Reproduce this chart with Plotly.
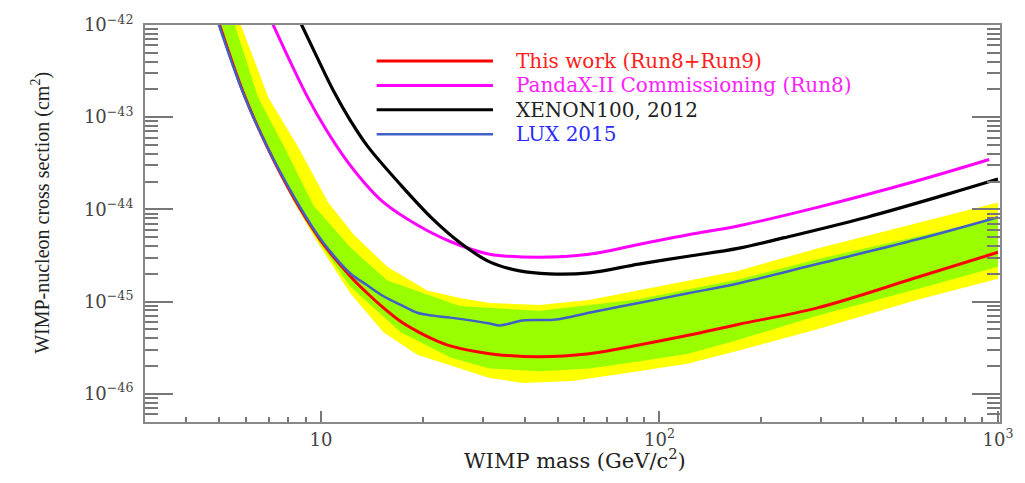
import plotly.graph_objects as go

# ---------------- data ----------------
# This work (Run8+Run9)
red_mass = [4.9, 5.95, 7.0, 8.33, 9.8, 10.9, 12.24, 13.7, 15.3, 17.2, 19.25, 21.4, 24.1, 31.5, 44.2, 61.9, 86.8,
            121.6, 170.5, 292.6, 574.7, 1000]
red_xsec = [1.3e-42, 1.69e-43, 4.42e-44, 1.31e-44, 5.05e-45, 3.03e-45, 1.86e-45, 1.23e-45, 8.53e-46, 6.07e-46,
            4.75e-46, 3.91e-46, 3.30e-46, 2.72e-46, 2.52e-46, 2.72e-46, 3.38e-46, 4.31e-46, 5.64e-46, 8.53e-46,
            1.82e-45, 3.42e-45]

# LUX 2015
lux_mass = [4.85, 5.9, 6.95, 8.3, 9.75, 10.9, 12.24, 13.7, 15.3, 17.2, 19.25, 21.4, 24.1, 31.5, 33.7, 39.4, 49.5,
            61.9, 86.8, 121.6, 170.5, 292.6, 574.7, 1000]
lux_xsec = [1.38e-42, 1.79e-43, 4.68e-44, 1.39e-44, 5.35e-45, 3.15e-45, 2.0e-45, 1.50e-45, 1.14e-45, 9.18e-46,
            7.55e-46, 7.03e-46, 6.69e-46, 5.78e-46, 5.5e-46, 6.22e-46, 6.37e-46, 7.55e-46, 9.64e-46, 1.23e-45,
            1.57e-45, 2.55e-45, 4.70e-45, 8.22e-45]

# PandaX-II Commissioning (Run8)
pandax_mass = [6.9, 8.17, 9.16, 10.34, 11.68, 13.37, 15.3, 19.25, 24.1, 31.5, 44.2, 61.9, 86.8, 121.6, 170.5,
               292.6, 574.7, 942]
pandax_xsec = [1.45e-42, 3.78e-43, 1.61e-43, 7.38e-44, 3.73e-44, 1.98e-44, 1.19e-44, 6.77e-45, 4.48e-45, 3.26e-45,
               3.03e-45, 3.26e-45, 4.16e-45, 5.31e-45, 6.6e-45, 1.05e-44, 2.03e-44, 3.47e-44]

# XENON100, 2012
xenon_mass = [8.5, 9.73, 10.9, 12.24, 13.7, 17.2, 21.4, 25.7, 31.5, 38.6, 47.2, 61.9, 86.8, 121.6, 170.5, 234,
              410, 718, 1000]
xenon_xsec = [1.27e-42, 4.48e-43, 1.91e-43, 9.08e-44, 4.88e-44, 1.84e-44, 7.83e-45, 4.37e-45, 2.69e-45, 2.15e-45,
              2.0e-45, 2.05e-45, 2.55e-45, 3.10e-45, 3.77e-45, 4.93e-45, 8.22e-45, 1.48e-44, 2.13e-44]

# 2-sigma band (yellow)
y2_hi_mass = [5.6, 7.0, 8.56, 10.5, 12.5, 15.7, 20.6, 25.7, 31.5, 44.2, 61.9, 86.8, 121.6, 170.5, 292.6, 574.7, 1000]
y2_hi_xsec = [1.4e-42, 1.61e-43, 4.75e-44, 1.19e-44, 5.31e-45, 2.38e-45, 1.32e-45, 1.09e-45, 9.64e-46, 9.18e-46,
              1.04e-45, 1.32e-45, 1.69e-45, 2.15e-45, 3.77e-45, 7.11e-45, 1.19e-44]
y2_lo_mass = [4.9, 5.95, 7.0, 8.33, 9.8, 12.2, 15.3, 19.25, 24.1, 31.5, 39.4, 55.2, 86.8, 121.6, 170.5, 292.6, 574.7, 1000]
y2_lo_xsec = [1.25e-42, 1.6e-43, 4.2e-44, 1.18e-44, 4.3e-45, 1.23e-45, 4.64e-46, 2.65e-46, 2.03e-46, 1.48e-46,
              1.31e-46, 1.37e-46, 1.75e-46, 2.13e-46, 2.92e-46, 4.99e-46, 1.04e-45, 1.77e-45]

# 1-sigma band (green)
g1_hi_mass = [5.4, 6.53, 7.79, 9.5, 12.2, 15.7, 25.7, 44.2, 86.8, 170.5, 292.6, 574.7, 1000]
g1_hi_xsec = [1.4e-42, 1.61e-43, 4.75e-44, 1.10e-44, 3.87e-45, 1.69e-45, 8.95e-46, 7.93e-46, 1.06e-45, 1.73e-45,
              2.88e-45, 5.06e-45, 8.03e-45]
g1_lo_mass = [4.9, 5.95, 7.0, 8.33, 9.8, 12.2, 17.2, 24.1, 31.5, 44.2, 61.9, 86.8, 121.6, 170.5, 292.6, 574.7, 1000]
g1_lo_xsec = [1.28e-42, 1.62e-43, 4.3e-44, 1.22e-44, 4.6e-45, 1.46e-45, 4.64e-46, 2.47e-46, 1.88e-46, 1.75e-46,
              1.88e-46, 2.23e-46, 2.72e-46, 3.82e-46, 7.03e-46, 1.36e-45, 2.38e-45]

legend_names = ["This work (Run8+Run9)", "PandaX-II Commissioning (Run8)", "XENON100, 2012", "LUX 2015"]

x_tickvals = [10, 100, 1000]
x_ticktext = ["10", "10<sup>2</sup>", "10<sup>3</sup>"]
y_exponents = [-42, -43, -44, -45, -46]

# ---------------- styling ----------------
RED = "#ff0000"
MAGENTA = "#ff00ff"
BLACK = "#000000"
BLUE = "#4060c8"
YELLOW = "#ffff00"
GREEN = "#99ff00"
SERIF = "DejaVu Serif"
TIMES = "Liberation Serif"

fig = go.Figure()

def band(hi_m, hi_s, lo_m, lo_s, color, name):
    fig.add_trace(go.Scatter(
        x=list(hi_m) + list(reversed(lo_m)),
        y=list(hi_s) + list(reversed(lo_s)),
        fill="toself", fillcolor=color, mode="lines",
        line=dict(width=0, color=color), name=name,
        showlegend=False, hoverinfo="skip"))

band(y2_hi_mass, y2_hi_xsec, y2_lo_mass, y2_lo_xsec, YELLOW, "2 sigma")
band(g1_hi_mass, g1_hi_xsec, g1_lo_mass, g1_lo_xsec, GREEN, "1 sigma")

series = [
    (pandax_mass, pandax_xsec, MAGENTA, 3, legend_names[1]),
    (xenon_mass, xenon_xsec, BLACK, 3.2, legend_names[2]),
    (red_mass, red_xsec, RED, 3, legend_names[0]),
    (lux_mass, lux_xsec, BLUE, 2.5, legend_names[3]),
]
for m, s, c, w, n in series:
    fig.add_trace(go.Scatter(x=m, y=s, mode="lines", name=n,
                             line=dict(color=c, width=w, shape="spline", smoothing=1.0),
                             showlegend=False))

# ---------------- manual ROOT-style legend ----------------
L, R, T, B = 145, 1005, 15, 422
W, H = R - L, B - T
def px(x): return (x - L) / W
def py(y): return (B - y) / H

leg_colors = [RED, MAGENTA, BLACK, BLUE]
leg_text_colors = ["#ff2020", "#ff20ff", "#222222", "#2a2aff"]
leg_rows = [52, 77, 102, 127]
for name, c, tc, row in zip(legend_names, leg_colors, leg_text_colors, leg_rows):
    fig.add_shape(type="line", xref="paper", yref="paper",
                  x0=px(378), x1=px(495), y0=py(row), y1=py(row),
                  line=dict(color=c, width=3 if c != BLUE else 2.5))
    fig.add_annotation(xref="paper", yref="paper", x=px(516), y=py(row),
                       text=name, showarrow=False, xanchor="left", yanchor="middle",
                       font=dict(family=SERIF, size=20, color=tc))

# axis titles
fig.add_annotation(xref="paper", yref="paper", x=px(578), y=py(460),
                   text="WIMP mass (GeV/c<sup>2</sup>)", showarrow=False,
                   xanchor="center", yanchor="middle",
                   font=dict(family=SERIF, size=21, color="#222"))
fig.add_annotation(xref="paper", yref="paper", x=px(40), y=py(208),
                   text="WIMP-nucleon cross section (cm<sup>2</sup>)", showarrow=False,
                   textangle=-90, xanchor="center", yanchor="middle",
                   font=dict(family=TIMES, size=20, color="#222"))

x_minor = [k * 10 ** d for d in range(0, 3) for k in range(2, 10)]
y_minor = [k * 10.0 ** d for d in range(-47, -42) for k in range(2, 10)]

fig.update_xaxes(type="log", range=[0.480, 3.006],
                 tickmode="array", tickvals=x_tickvals, ticktext=x_ticktext,
                 ticks="inside", ticklen=11, tickwidth=1.5, tickcolor="#777",
                 minor=dict(tickmode="array", tickvals=x_minor, ticks="inside",
                            ticklen=5, tickwidth=1.5, tickcolor="#777"),
                 showline=True, linecolor="#888", linewidth=2, mirror=True,
                 showgrid=False, zeroline=False,
                 tickfont=dict(family=SERIF, size=18, color="#444"))
fig.update_yaxes(type="log", range=[-46.307, -42.0],
                 tickmode="array", tickvals=[10.0 ** e for e in y_exponents],
                 ticktext=["10<sup>\u2212%d</sup>" % (-e) for e in y_exponents],
                 ticks="inside", ticklen=28, tickwidth=1.5, tickcolor="#777",
                 minor=dict(tickmode="array", tickvals=y_minor, ticks="inside",
                            ticklen=13, tickwidth=1.5, tickcolor="#777"),
                 showline=True, linecolor="#888", linewidth=2, mirror="allticks",
                 showgrid=False, zeroline=False, ticklabelstandoff=6,
                 tickfont=dict(family=SERIF, size=18, color="#444"))

fig.update_layout(width=1025, height=483,
                  margin=dict(l=L, r=1025 - R, t=T, b=483 - B),
                  paper_bgcolor="white", plot_bgcolor="white",
                  showlegend=False)

fig.write_html("out.html")
